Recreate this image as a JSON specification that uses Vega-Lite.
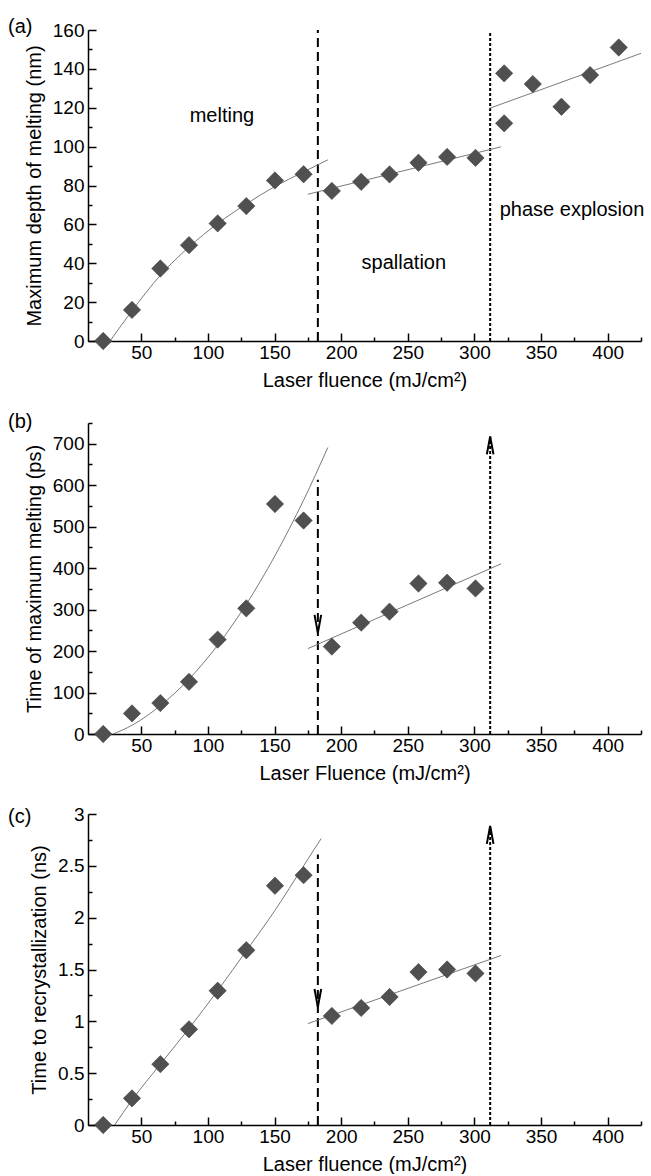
{
  "$schema": "https://vega.github.io/schema/vega-lite/v6.json",
  "background": "white",
  "padding": {"left": 8, "top": 17, "right": 5, "bottom": 0},
  "spacing": 22,
  "config": {
    "view": {"stroke": null},
    "font": "Liberation Sans",
    "axis": {"domainColor": "black", "domainWidth": 1.5, "tickColor": "black", "tickWidth": 1.5, "tickSize": -8, "tickCount": 100, "labelFont": "Liberation Sans", "labelFontSize": 19, "labelColor": "black", "labelOverlap": false, "titleFont": "Liberation Sans", "titleFontSize": 20, "titleFontWeight": "normal", "titleColor": "black", "grid": false, "titlePadding": 8},
    "axisX": {"labelPadding": 10},
    "axisY": {"labelPadding": 12},
    "title": {"font": "Liberation Sans", "fontSize": 20, "fontWeight": "normal", "color": "black", "anchor": "start", "frame": "group", "dx": -80}
  },
  "datasets": {
    "pts": [
      {"panel": "a", "fluence": 21.4, "value": 0}, {"panel": "a", "fluence": 43, "value": 16}, {"panel": "a", "fluence": 64.3, "value": 37.3}, {"panel": "a", "fluence": 85.8, "value": 49.3}, {"panel": "a", "fluence": 107.3, "value": 60.5}, {"panel": "a", "fluence": 128.8, "value": 69.4}, {"panel": "a", "fluence": 150.3, "value": 82.6}, {"panel": "a", "fluence": 171.8, "value": 85.8}, {"panel": "a", "fluence": 193, "value": 77.2}, {"panel": "a", "fluence": 215, "value": 81.9}, {"panel": "a", "fluence": 236.3, "value": 85.7}, {"panel": "a", "fluence": 258, "value": 91.7}, {"panel": "a", "fluence": 279.5, "value": 94.7}, {"panel": "a", "fluence": 300.8, "value": 94.2}, {"panel": "a", "fluence": 322.3, "value": 137.7}, {"panel": "a", "fluence": 322.3, "value": 112}, {"panel": "a", "fluence": 343.8, "value": 132.2}, {"panel": "a", "fluence": 365.3, "value": 120.5}, {"panel": "a", "fluence": 386.8, "value": 136.8}, {"panel": "a", "fluence": 408.3, "value": 151},
      {"panel": "b", "fluence": 21.4, "value": 0}, {"panel": "b", "fluence": 43, "value": 49.6}, {"panel": "b", "fluence": 64.3, "value": 74.5}, {"panel": "b", "fluence": 85.8, "value": 125.8}, {"panel": "b", "fluence": 107.3, "value": 227.6}, {"panel": "b", "fluence": 128.8, "value": 303}, {"panel": "b", "fluence": 150.3, "value": 554.7}, {"panel": "b", "fluence": 171.8, "value": 514.8}, {"panel": "b", "fluence": 193, "value": 210.8}, {"panel": "b", "fluence": 215, "value": 268.5}, {"panel": "b", "fluence": 236.3, "value": 295}, {"panel": "b", "fluence": 258, "value": 363}, {"panel": "b", "fluence": 279.5, "value": 364.7}, {"panel": "b", "fluence": 300.8, "value": 351},
      {"panel": "c", "fluence": 21.4, "value": 0}, {"panel": "c", "fluence": 43, "value": 0.257}, {"panel": "c", "fluence": 64.3, "value": 0.587}, {"panel": "c", "fluence": 85.8, "value": 0.923}, {"panel": "c", "fluence": 107.3, "value": 1.295}, {"panel": "c", "fluence": 128.8, "value": 1.686}, {"panel": "c", "fluence": 150.3, "value": 2.308}, {"panel": "c", "fluence": 171.8, "value": 2.41}, {"panel": "c", "fluence": 193, "value": 1.052}, {"panel": "c", "fluence": 215, "value": 1.129}, {"panel": "c", "fluence": 236.3, "value": 1.235}, {"panel": "c", "fluence": 258, "value": 1.475}, {"panel": "c", "fluence": 279.5, "value": 1.5}, {"panel": "c", "fluence": 300.8, "value": 1.462}
    ],
    "fits": [
      {"panel": "a", "seg": "melting", "fluence": 26.5, "value": 0}, {"panel": "a", "seg": "melting", "fluence": 43, "value": 15.5}, {"panel": "a", "seg": "melting", "fluence": 64.5, "value": 34}, {"panel": "a", "seg": "melting", "fluence": 86, "value": 48.5}, {"panel": "a", "seg": "melting", "fluence": 107.5, "value": 60.5}, {"panel": "a", "seg": "melting", "fluence": 128.8, "value": 70.5}, {"panel": "a", "seg": "melting", "fluence": 150.3, "value": 79.5}, {"panel": "a", "seg": "melting", "fluence": 171.8, "value": 87}, {"panel": "a", "seg": "melting", "fluence": 190, "value": 93.2},
      {"panel": "a", "seg": "spallation", "fluence": 175, "value": 75.5}, {"panel": "a", "seg": "spallation", "fluence": 320, "value": 99.9},
      {"panel": "a", "seg": "phase", "fluence": 311.3, "value": 119.7}, {"panel": "a", "seg": "phase", "fluence": 425, "value": 148},
      {"panel": "b", "seg": "melting", "fluence": 28.8, "value": 0}, {"panel": "b", "seg": "melting", "fluence": 43, "value": 21}, {"panel": "b", "seg": "melting", "fluence": 64.5, "value": 69}, {"panel": "b", "seg": "melting", "fluence": 86, "value": 133}, {"panel": "b", "seg": "melting", "fluence": 107.5, "value": 215}, {"panel": "b", "seg": "melting", "fluence": 128.8, "value": 313}, {"panel": "b", "seg": "melting", "fluence": 150.3, "value": 430}, {"panel": "b", "seg": "melting", "fluence": 171.8, "value": 564}, {"panel": "b", "seg": "melting", "fluence": 190, "value": 691},
      {"panel": "b", "seg": "spallation", "fluence": 175, "value": 206}, {"panel": "b", "seg": "spallation", "fluence": 320, "value": 410.4},
      {"panel": "c", "seg": "melting", "fluence": 30, "value": 0}, {"panel": "c", "seg": "melting", "fluence": 43, "value": 0.24}, {"panel": "c", "seg": "melting", "fluence": 64.5, "value": 0.59}, {"panel": "c", "seg": "melting", "fluence": 86, "value": 0.935}, {"panel": "c", "seg": "melting", "fluence": 107.5, "value": 1.3}, {"panel": "c", "seg": "melting", "fluence": 128.8, "value": 1.68}, {"panel": "c", "seg": "melting", "fluence": 150.3, "value": 2.07}, {"panel": "c", "seg": "melting", "fluence": 171.8, "value": 2.5}, {"panel": "c", "seg": "melting", "fluence": 185, "value": 2.763},
      {"panel": "c", "seg": "spallation", "fluence": 175, "value": 0.978}, {"panel": "c", "seg": "spallation", "fluence": 320, "value": 1.635}
    ],
    "vlines": [
      {"panel": "a", "kind": "dash", "fluence": 182.5, "y0": 0, "y1": 160}, {"panel": "a", "kind": "dot", "fluence": 311.8, "y0": 0, "y1": 159.5},
      {"panel": "b", "kind": "dash", "fluence": 182.5, "y0": 0, "y1": 613}, {"panel": "b", "kind": "dot", "fluence": 311.8, "y0": 0, "y1": 717},
      {"panel": "c", "kind": "dash", "fluence": 182.5, "y0": 0, "y1": 2.61}, {"panel": "c", "kind": "dot", "fluence": 311.8, "y0": 0, "y1": 2.885}
    ],
    "arrows": [
      {"panel": "b", "dir": "down", "fluence": 182.5, "tip": 244}, {"panel": "b", "dir": "up", "fluence": 311.8, "tip": 717.6},
      {"panel": "c", "dir": "down", "fluence": 182.5, "tip": 1.138}, {"panel": "c", "dir": "up", "fluence": 311.8, "tip": 2.885}
    ],
    "labels": [
      {"panel": "a", "fluence": 86.3, "value": 115.7, "text": "melting"},
      {"panel": "a", "fluence": 215.3, "value": 40, "text": "spallation"},
      {"panel": "a", "fluence": 319, "value": 67.3, "text": "phase explosion"}
    ]
  },
  "vconcat": [
    {
      "title": {"text": "(a)", "offset": 6, "dy": 22},
      "width": 553, "height": 311,
      "resolve": {"scale": {"x": "independent", "y": "independent"}},
      "layer": [
        {
          "layer": [
            {"data": {"name": "vlines"}, "transform": [{"filter": "datum.panel === 'a' && datum.kind === 'dash'"}], "mark": {"type": "rule", "color": "black", "strokeWidth": 2, "strokeDash": [9, 5]}, "encoding": {"x": {"field": "fluence", "type": "quantitative"}, "y": {"field": "y0", "type": "quantitative"}, "y2": {"field": "y1"}}},
            {"data": {"name": "vlines"}, "transform": [{"filter": "datum.panel === 'a' && datum.kind === 'dot'"}], "mark": {"type": "rule", "color": "black", "strokeWidth": 2, "strokeDash": [3, 2]}, "encoding": {"x": {"field": "fluence", "type": "quantitative"}, "y": {"field": "y0", "type": "quantitative"}, "y2": {"field": "y1"}}},
            {"data": {"name": "fits"}, "transform": [{"filter": "datum.panel === 'a'"}], "mark": {"type": "line", "color": "#7a7a7a", "strokeWidth": 1, "interpolate": "monotone"}, "encoding": {"x": {"field": "fluence", "type": "quantitative"}, "y": {"field": "value", "type": "quantitative"}, "detail": {"field": "seg"}}},
            {"data": {"name": "pts"}, "transform": [{"filter": "datum.panel === 'a'"}], "mark": {"type": "point", "shape": "diamond", "filled": true, "size": 300, "color": "#505050", "opacity": 1, "stroke": "#404040", "strokeWidth": 0.6},
              "encoding": {
                "x": {"field": "fluence", "type": "quantitative", "scale": {"domain": [10, 425], "nice": false, "zero": false}, "axis": {"title": "Laser fluence (mJ/cm²)", "tickCount": 100, "labelOverlap": false, "values": [50, 100, 150, 200, 250, 300, 350, 400]}},
                "y": {"field": "value", "type": "quantitative", "scale": {"domain": [0, 160], "nice": false}, "axis": {"title": "Maximum depth of melting (nm)", "tickCount": 100, "labelOverlap": false, "values": [0, 20, 40, 60, 80, 100, 120, 140, 160]}}
              }},
            {"data": {"name": "labels"}, "transform": [{"filter": "datum.panel === 'a'"}], "mark": {"type": "text", "fontSize": 20, "font": "Liberation Sans", "color": "black", "baseline": "middle", "align": "left"}, "encoding": {"x": {"field": "fluence", "type": "quantitative"}, "y": {"field": "value", "type": "quantitative"}, "text": {"field": "text"}}}
          ]
        },
        {"data": {"name": "vlines"}, "transform": [{"filter": "datum.panel === 'a'"}], "mark": {"type": "rule", "opacity": 0},
          "encoding": {
            "x": {"field": "fluence", "type": "quantitative", "scale": {"domain": [10, 425], "nice": false, "zero": false}, "axis": {"orient": "bottom", "title": null, "labels": false, "domain": false, "tickSize": -4, "tickCount": 100, "values": [75, 125, 175, 225, 275, 325, 375, 425]}},
            "y": {"field": "y0", "type": "quantitative", "scale": {"domain": [0, 160], "nice": false}, "axis": {"orient": "left", "title": null, "labels": false, "domain": false, "tickSize": -4, "tickCount": 100, "values": [10, 30, 50, 70, 90, 110, 130, 150]}}
          }}
      ]
    },
    {
      "title": {"text": "(b)", "offset": 6, "dy": 16},
      "width": 553, "height": 311,
      "resolve": {"scale": {"x": "independent", "y": "independent"}},
      "layer": [
        {
          "layer": [
            {"data": {"name": "vlines"}, "transform": [{"filter": "datum.panel === 'b' && datum.kind === 'dash'"}], "mark": {"type": "rule", "color": "black", "strokeWidth": 2, "strokeDash": [9, 5]}, "encoding": {"x": {"field": "fluence", "type": "quantitative"}, "y": {"field": "y0", "type": "quantitative"}, "y2": {"field": "y1"}}},
            {"data": {"name": "vlines"}, "transform": [{"filter": "datum.panel === 'b' && datum.kind === 'dot'"}], "mark": {"type": "rule", "color": "black", "strokeWidth": 2, "strokeDash": [3, 2]}, "encoding": {"x": {"field": "fluence", "type": "quantitative"}, "y": {"field": "y0", "type": "quantitative"}, "y2": {"field": "y1"}}},
            {"data": {"name": "arrows"}, "transform": [{"filter": "datum.panel === 'b'"}], "mark": {"type": "point", "filled": false, "size": 324, "color": "black", "strokeWidth": 2, "opacity": 1}, "encoding": {"x": {"field": "fluence", "type": "quantitative"}, "y": {"field": "tip", "type": "quantitative"}, "shape": {"field": "dir", "type": "nominal", "scale": {"domain": ["down", "up"], "range": ["M-0.37,-2L0,0L0.37,-2", "M-0.37,2L0,0L0.37,2"]}, "legend": null}}},
            {"data": {"name": "fits"}, "transform": [{"filter": "datum.panel === 'b'"}], "mark": {"type": "line", "color": "#7a7a7a", "strokeWidth": 1, "interpolate": "monotone"}, "encoding": {"x": {"field": "fluence", "type": "quantitative"}, "y": {"field": "value", "type": "quantitative"}, "detail": {"field": "seg"}}},
            {"data": {"name": "pts"}, "transform": [{"filter": "datum.panel === 'b'"}], "mark": {"type": "point", "shape": "diamond", "filled": true, "size": 300, "color": "#505050", "opacity": 1, "stroke": "#404040", "strokeWidth": 0.6},
              "encoding": {
                "x": {"field": "fluence", "type": "quantitative", "scale": {"domain": [10, 425], "nice": false, "zero": false}, "axis": {"title": "Laser Fluence (mJ/cm²)", "tickCount": 100, "labelOverlap": false, "values": [50, 100, 150, 200, 250, 300, 350, 400]}},
                "y": {"field": "value", "type": "quantitative", "scale": {"domain": [0, 750], "nice": false}, "axis": {"title": "Time of maximum melting (ps)", "tickCount": 100, "labelOverlap": false, "values": [0, 100, 200, 300, 400, 500, 600, 700]}}
              }}
          ]
        },
        {"data": {"name": "vlines"}, "transform": [{"filter": "datum.panel === 'b'"}], "mark": {"type": "rule", "opacity": 0},
          "encoding": {
            "x": {"field": "fluence", "type": "quantitative", "scale": {"domain": [10, 425], "nice": false, "zero": false}, "axis": {"orient": "bottom", "title": null, "labels": false, "domain": false, "tickSize": -4, "tickCount": 100, "values": [75, 125, 175, 225, 275, 325, 375, 425]}},
            "y": {"field": "y0", "type": "quantitative", "scale": {"domain": [0, 750], "nice": false}, "axis": {"orient": "left", "title": null, "labels": false, "domain": false, "tickSize": -4, "tickCount": 100, "values": [50, 150, 250, 350, 450, 550, 650, 750]}}
          }}
      ]
    },
    {
      "title": {"text": "(c)", "offset": 6, "dy": 28},
      "width": 553, "height": 311,
      "resolve": {"scale": {"x": "independent", "y": "independent"}},
      "layer": [
        {
          "layer": [
            {"data": {"name": "vlines"}, "transform": [{"filter": "datum.panel === 'c' && datum.kind === 'dash'"}], "mark": {"type": "rule", "color": "black", "strokeWidth": 2, "strokeDash": [9, 5]}, "encoding": {"x": {"field": "fluence", "type": "quantitative"}, "y": {"field": "y0", "type": "quantitative"}, "y2": {"field": "y1"}}},
            {"data": {"name": "vlines"}, "transform": [{"filter": "datum.panel === 'c' && datum.kind === 'dot'"}], "mark": {"type": "rule", "color": "black", "strokeWidth": 2, "strokeDash": [3, 2]}, "encoding": {"x": {"field": "fluence", "type": "quantitative"}, "y": {"field": "y0", "type": "quantitative"}, "y2": {"field": "y1"}}},
            {"data": {"name": "arrows"}, "transform": [{"filter": "datum.panel === 'c'"}], "mark": {"type": "point", "filled": false, "size": 324, "color": "black", "strokeWidth": 2, "opacity": 1}, "encoding": {"x": {"field": "fluence", "type": "quantitative"}, "y": {"field": "tip", "type": "quantitative"}, "shape": {"field": "dir", "type": "nominal", "scale": {"domain": ["down", "up"], "range": ["M-0.37,-2L0,0L0.37,-2", "M-0.37,2L0,0L0.37,2"]}, "legend": null}}},
            {"data": {"name": "fits"}, "transform": [{"filter": "datum.panel === 'c'"}], "mark": {"type": "line", "color": "#7a7a7a", "strokeWidth": 1, "interpolate": "monotone"}, "encoding": {"x": {"field": "fluence", "type": "quantitative"}, "y": {"field": "value", "type": "quantitative"}, "detail": {"field": "seg"}}},
            {"data": {"name": "pts"}, "transform": [{"filter": "datum.panel === 'c'"}], "mark": {"type": "point", "shape": "diamond", "filled": true, "size": 300, "color": "#505050", "opacity": 1, "stroke": "#404040", "strokeWidth": 0.6},
              "encoding": {
                "x": {"field": "fluence", "type": "quantitative", "scale": {"domain": [10, 425], "nice": false, "zero": false}, "axis": {"title": "Laser fluence (mJ/cm²)", "tickCount": 100, "labelOverlap": false, "values": [50, 100, 150, 200, 250, 300, 350, 400]}},
                "y": {"field": "value", "type": "quantitative", "scale": {"domain": [0, 3], "nice": false}, "axis": {"title": "Time to recrystallization (ns)", "tickCount": 100, "labelOverlap": false, "values": [0, 0.5, 1, 1.5, 2, 2.5, 3], "labelExpr": "toString(datum.value)"}}
              }}
          ]
        },
        {"data": {"name": "vlines"}, "transform": [{"filter": "datum.panel === 'c'"}], "mark": {"type": "rule", "opacity": 0},
          "encoding": {
            "x": {"field": "fluence", "type": "quantitative", "scale": {"domain": [10, 425], "nice": false, "zero": false}, "axis": {"orient": "bottom", "title": null, "labels": false, "domain": false, "tickSize": -4, "tickCount": 100, "values": [75, 125, 175, 225, 275, 325, 375, 425]}},
            "y": {"field": "y0", "type": "quantitative", "scale": {"domain": [0, 3], "nice": false}, "axis": {"orient": "left", "title": null, "labels": false, "domain": false, "tickSize": -4, "tickCount": 100, "values": [0.25, 0.75, 1.25, 1.75, 2.25, 2.75]}}
          }}
      ]
    }
  ]
}
